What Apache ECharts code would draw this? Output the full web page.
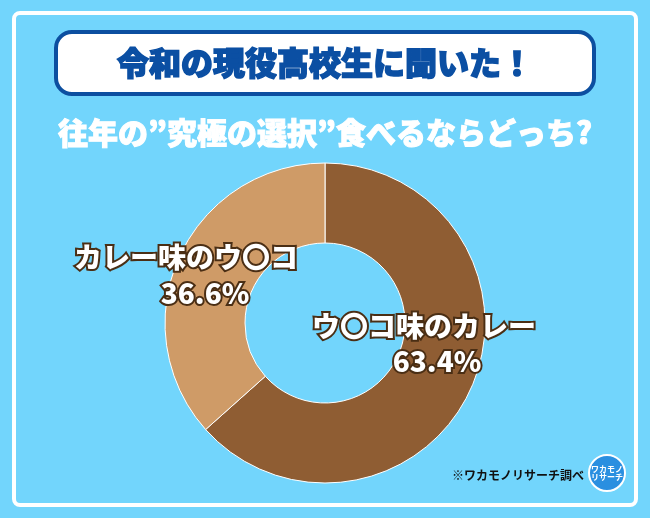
<!DOCTYPE html><html><head><meta charset="utf-8"><script src="https://cdn.jsdelivr.net/npm/echarts@6/dist/echarts.min.js"></script>
<style>html,body{margin:0;padding:0;background:#72d5fc}#c{width:650px;height:518px}</style></head><body><div id="c"></div>
<script>
const categories=['ウ〇コ味のカレー','カレー味のウ〇コ'];
const values=[63.4,36.6];
const colors=['#8f5d33','#cf9b67'];
const F='"Noto Sans CJK JP",sans-serif';
const c=echarts.init(document.getElementById('c'));
const lab={fill:'#fff',stroke:'#4a2e14',lineWidth:4,font:'900 28px '+F,textAlign:'center',textVerticalAlign:'middle'};
const T=(x,y,t)=>({type:'text',x:x,y:y,z:100,style:Object.assign({},lab,{text:t})});
c.setOption({backgroundColor:'#72d5fc',
graphic:[
{type:'rect',shape:{x:14,y:13,width:622,height:492,r:6},style:{fill:'none',stroke:'#fff',lineWidth:4},z:-1},
{type:'rect',shape:{x:56,y:32,width:538,height:62,r:16},style:{fill:'#fff',stroke:'#0c4fa0',lineWidth:4}},
{type:'text',x:325,y:63,style:{text:'令和の現役高校生に聞いた！',fill:'#0b4fa3',stroke:'#0b4fa3',lineWidth:1.5,font:'900 32px '+F,textAlign:'center',textVerticalAlign:'middle',textShadowColor:'#0b3f80',textShadowOffsetX:2,textShadowOffsetY:3}},
{type:'text',x:325,y:133,style:{text:'往年の”究極の選択”食べるならどっち?',fill:'#fff',stroke:'#fff',lineWidth:1,font:'900 30px '+F,textAlign:'center',textVerticalAlign:'middle'}},
T(186,257,categories[1]),T(205,293,values[1].toFixed(1)+'%'),
T(424,326,categories[0]),T(437,361,values[0].toFixed(1)+'%'),
{type:'text',x:518,y:475,style:{text:'※ワカモノリサーチ調べ',fill:'#111',font:'bold 12px '+F,textAlign:'center',textVerticalAlign:'middle'}},
{type:'circle',shape:{cx:607,cy:473,r:18},style:{fill:'#2a8fe0',stroke:'#fff',lineWidth:2}},
{type:'text',x:607,y:473,style:{text:'ワカモノ\nリサーチ',fill:'#fff',font:'bold 8px '+F,textAlign:'center',textVerticalAlign:'middle'}}
],
series:[{type:'pie',center:[325,323],radius:[80,160],startAngle:90,clockwise:true,silent:true,label:{show:false},
itemStyle:{borderColor:'#fff',borderWidth:1},
data:categories.map((n,i)=>({name:n,value:values[i],itemStyle:{color:colors[i]}}))}]
});
</script></body></html>
